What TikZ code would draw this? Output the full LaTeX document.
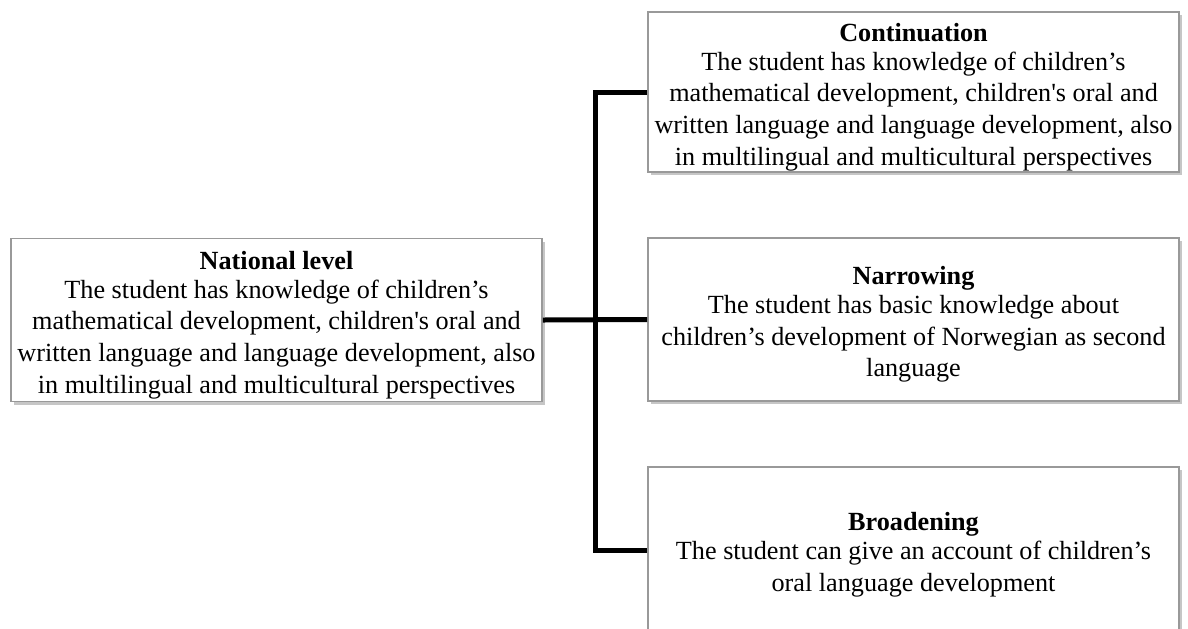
\documentclass[tikz,border=0pt]{standalone}
\usepackage{fontspec}
\setmainfont{Liberation Serif}
\usetikzlibrary{shadows}

\newcommand{\boxtitle}[1]{\rule{0pt}{14pt}\textbf{#1}\\[-1.2pt]}

\begin{document}
\begin{tikzpicture}[x=0.5pt,y=-0.5pt,
    box/.style={draw=gray!80,line width=0.8pt,fill=white,
        minimum width=265.5pt,minimum height=81.5pt,inner sep=0pt,
        align=center,font=\fontsize{13.1}{15.8}\selectfont,
        drop shadow={shadow xshift=1.5pt,shadow yshift=-1.5pt,fill=gray,opacity=0.45}},
    conn/.style={line width=2.5pt}]
    \useasboundingbox (0,0) rectangle (1188,628);

    % left box
    \node[box] (natl) at (276.5,320) {\boxtitle{National level}
        The student has knowledge of children’s\\
        mathematical development, children\textquotesingle s oral and\\
        written language and language development, also\\
        in multilingual and multicultural perspectives};

    % right boxes
    \node[box,minimum height=80pt] (cont) at (913.5,92) {\boxtitle{Continuation}
        The student has knowledge of children’s\\
        mathematical development, children\textquotesingle s oral and\\
        written language and language development, also\\
        in multilingual and multicultural perspectives};

    \node[box] (narr) at (913.5,319.5) {\boxtitle{Narrowing}
        The student has basic knowledge about\\
        children’s development of Norwegian as second\\
        language};

    \node[box,minimum height=83pt] (broad) at (913.5,550) {\boxtitle{Broadening}
        The student can give an account of children’s\\
        oral language development};

    % connectors
    \coordinate (junc) at (595,320);
    \draw[conn] (natl.east) -- (narr.west);
    \draw[conn] (cont.west) -| (junc) |- (broad.west);
\end{tikzpicture}
\end{document}
